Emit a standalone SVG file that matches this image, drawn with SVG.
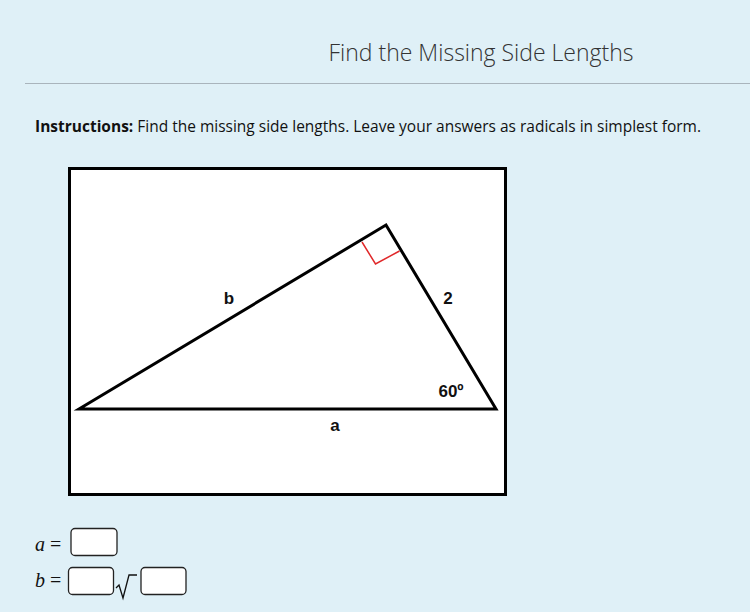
<svg xmlns="http://www.w3.org/2000/svg" width="750" height="612" viewBox="0 0 750 612">
<style>
.lbl{font-family:"Liberation Sans",Arial,sans-serif;font-weight:bold;font-size:17px;fill:#111}
.box{fill:#fff;stroke:#222;stroke-width:1.3}
.math{font-family:"Liberation Serif","DejaVu Serif",serif;font-size:20px;fill:#111}
</style>
<rect width="750" height="612" fill="#dff0f7"/>
<g id="header">
<text x="481" y="61" text-anchor="middle" font-family="'Open Sans','Noto Sans',sans-serif" font-weight="300" font-size="23" fill="#333" textLength="305" lengthAdjust="spacingAndGlyphs">Find the Missing Side Lengths</text>
<line x1="25" y1="83.5" x2="750" y2="83.5" stroke="#a9b4bc" stroke-width="1.2"/>
<text x="35" y="132" font-family="'Open Sans','Noto Sans',sans-serif" font-size="15.5" fill="#111" textLength="666" lengthAdjust="spacingAndGlyphs"><tspan font-weight="bold">Instructions:</tspan> Find the missing side lengths. Leave your answers as radicals in simplest form.</text>
</g>
<g id="figure">
<rect x="69.5" y="168.5" width="436" height="326" fill="#fff" stroke="#000" stroke-width="3"/>
<polygon points="79,409 386,225 496,409" fill="none" stroke="#000" stroke-width="3" stroke-linejoin="miter"/>
<polyline points="362,242 375.5,264 399.5,251" fill="none" stroke="#e0282a" stroke-width="1.5"/>
<text class="lbl" x="229" y="304" text-anchor="middle">b</text>
<text class="lbl" x="448" y="304" text-anchor="middle">2</text>
<text class="lbl" x="451" y="397" text-anchor="middle">60º</text>
<text class="lbl" x="335" y="431" text-anchor="middle">a</text>
</g>
<g id="answers">
<text class="math" x="35" y="551" font-style="italic">a</text>
<text class="math" x="50" y="551">=</text>
<rect class="box" x="71" y="528.5" width="46" height="27" rx="4"/>
<text class="math" x="35" y="587" font-style="italic">b</text>
<text class="math" x="50" y="587">=</text>
<rect class="box" x="68.5" y="567.5" width="45" height="27" rx="4"/>
<path d="M116,588 L119,585 L123,598 L129,575 L137,575" fill="none" stroke="#111" stroke-width="1.3"/>
<rect class="box" x="141" y="567.5" width="45" height="27" rx="4"/>
</g>
</svg>
